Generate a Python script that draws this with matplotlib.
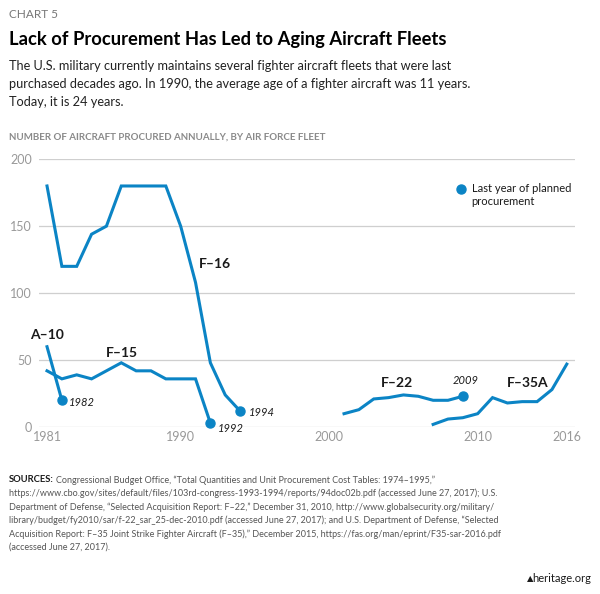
import matplotlib
matplotlib.use("Agg")
import matplotlib.pyplot as plt

#
# Data
#
f16_years = [1981, 1982, 1983, 1984, 1985, 1986, 1987, 1988, 1989, 1990, 1991, 1992, 1993, 1994]
f16_values = [180, 120, 120, 144, 150, 180, 180, 180, 180, 150, 108, 48, 24, 12]

f15_years = [1981, 1982, 1983, 1984, 1985, 1986, 1987, 1988, 1989, 1990, 1991, 1992]
f15_values = [42, 36, 39, 36, 42, 48, 42, 42, 36, 36, 36, 3]

a10_years = [1981, 1982]
a10_values = [60, 20]

f22_years = [2001, 2002, 2003, 2004, 2005, 2006, 2007, 2008, 2009]
f22_values = [10, 13, 21, 22, 24, 23, 20, 20, 23]

f35_years = [2007, 2008, 2009, 2010, 2011, 2012, 2013, 2014, 2015, 2016]
f35_values = [2, 6, 7, 10, 22, 18, 19, 19, 28, 47]

x_ticks = [1981, 1990, 2000, 2010, 2016]
y_ticks = [0, 50, 100, 150, 200]

BLUE = "#0b84c5"
GRAY = "#8a8a8a"
DARK = "#1a1a1a"

plt.rcParams["font.family"] = ["Lato", "DejaVu Sans"]

fig = plt.figure(figsize=(6.0, 5.94), dpi=100)
ax = fig.add_axes([0.065, 0.281, 0.893, 0.451])

#
# Lines and end-of-procurement dots
#
lw = 2.2
for xs, ys in [(f16_years, f16_values), (f15_years, f15_values), (a10_years, a10_values),
               (f22_years, f22_values), (f35_years, f35_values)]:
    ax.plot(xs, ys, color=BLUE, lw=lw, solid_joinstyle="miter", clip_on=False, zorder=3)

# last planned year markers
for xs, ys in [(f16_years, f16_values), (f15_years, f15_values), (a10_years, a10_values),
               (f22_years, f22_values)]:
    ax.plot(xs[-1], ys[-1], "o", color=BLUE, ms=6.5, clip_on=False, zorder=4)

# Axes styling
ax.set_xlim(1980.46, 2016.54)
ax.set_ylim(0, 200)
ax.set_yticks(y_ticks)
ax.set_xticks(x_ticks)
ax.grid(axis="y", color="#cfcfcf", lw=0.9)
ax.set_axisbelow(True)
for s in ax.spines.values():
    s.set_visible(False)
ax.tick_params(axis="both", length=0, labelsize=9, labelcolor="#999999")
ax.tick_params(axis="y", pad=5)
ax.tick_params(axis="x", pad=3)

# Fleet labels
lab = dict(fontsize=10, fontweight="bold", color=DARK, ha="center", va="center")
ax.text(1992.3, 121.6, "F\u201316", **lab)
ax.text(1981.0, 68.7, "A\u201310", **lab)
ax.text(1986.05, 55.0, "F\u201315", **lab)
ax.text(2004.55, 33.0, "F\u201322", **lab)
ax.text(2013.4, 33.0, "F\u201335A", **lab)

yr = dict(fontsize=8, fontstyle="italic", color=DARK, va="center")
ax.text(1982.5, 18, "1982", ha="left", **yr)
ax.text(1992.5, -1, "1992", ha="left", **yr)
ax.text(1994.6, 11, "1994", ha="left", **yr)
ax.text(2009.2, 35, "2009", ha="center", **yr)

# Legend
ax.plot(2008.86, 177.6, "o", color=BLUE, ms=6.5, clip_on=False)
ax.text(2009.6, 173.2, "Last year of planned\nprocurement", fontsize=8, color=DARK,
        ha="left", va="center", linespacing=1.25)

#
# Header text
#
fig.text(9 / 600, 1 - 15 / 594, "CHART 5", fontsize=8.5, color="#777777", va="center")
fig.text(9 / 600, 1 - 40 / 594, "Lack of Procurement Has Led to Aging Aircraft Fleets",
         fontsize=13.2, fontweight="bold", color="black", va="center")
fig.text(9 / 600, 1 - 84 / 594,
         "The U.S. military currently maintains several fighter aircraft fleets that were last\n"
         "purchased decades ago. In 1990, the average age of a fighter aircraft was 11 years.\n"
         "Today, it is 24 years.",
         fontsize=9.2, color="#222222", va="center", linespacing=1.62)
fig.text(9 / 600, 1 - 137 / 594, "NUMBER OF AIRCRAFT PROCURED ANNUALLY, BY AIR FORCE FLEET",
         fontsize=7.0, fontweight="bold", color=GRAY, va="center")

#
# Sources
#
src_lines = [
    "Congressional Budget Office, \u201cTotal Quantities and Unit Procurement Cost Tables: 1974\u20131995,\u201d",
    "https://www.cbo.gov/sites/default/files/103rd-congress-1993-1994/reports/94doc02b.pdf (accessed June 27, 2017); U.S.",
    "Department of Defense, \u201cSelected Acquisition Report: F\u201322,\u201d December 31, 2010, http://www.globalsecurity.org/military/",
    "library/budget/fy2010/sar/f-22_sar_25-dec-2010.pdf (accessed June 27, 2017); and U.S. Department of Defense, \u201cSelected",
    "Acquisition Report: F\u201335 Joint Strike Fighter Aircraft (F\u201335),\u201d December 2015, https://fas.org/man/eprint/F35-sar-2016.pdf",
    "(accessed June 27, 2017).",
]
src_y = [480, 493.5, 507, 520.5, 534, 547.5]
t = fig.text(9 / 600, 1 - src_y[0] / 594, "SOURCES:", fontsize=6.8, fontweight="bold",
             color=DARK, va="center")
fig.canvas.draw()
bb = t.get_window_extent()
x_after = (bb.x1 + 2) / fig.bbox.width
fig.text(x_after, 1 - src_y[0] / 594, src_lines[0], fontsize=6.5, color="#555555",
         va="center")
for line, y in zip(src_lines[1:], src_y[1:]):
    fig.text(9 / 600, 1 - y / 594, line, fontsize=6.5, color="#555555", va="center")

fig.text(591 / 600, 1 - 579 / 594, "heritage.org", fontsize=8, color=DARK,
         ha="right", va="center")
fig.text(530 / 600, 1 - 579 / 594, "\u25b2", fontsize=6, color=DARK, ha="center", va="center")

fig.savefig("out.png", dpi=100)
